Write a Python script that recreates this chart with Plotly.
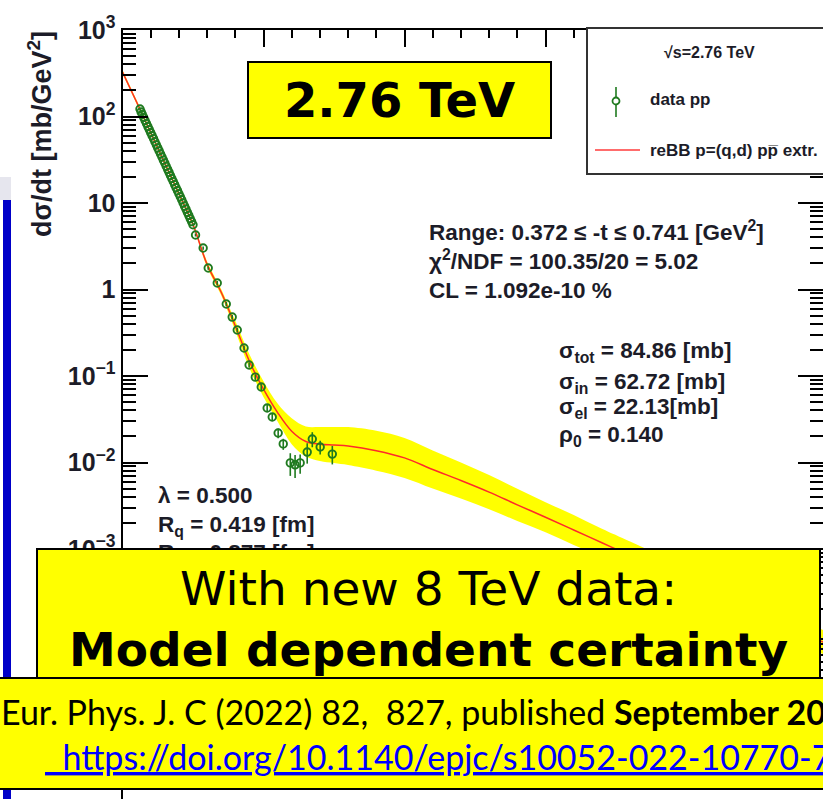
import plotly.graph_objects as go

W, H = 823, 799

# TOTEM pp data at sqrt(s) = 2.76 TeV
t_data = [0.062, 0.066, 0.070, 0.075, 0.080, 0.085, 0.090, 0.095, 0.100, 0.105,
          0.110, 0.115, 0.120, 0.125, 0.130, 0.135, 0.140, 0.145, 0.150, 0.155,
          0.160, 0.165, 0.170, 0.175, 0.180, 0.185, 0.190, 0.195, 0.200, 0.205,
          0.210, 0.215, 0.220, 0.225, 0.230, 0.235, 0.240, 0.245, 0.250,
          0.259, 0.286, 0.304, 0.336, 0.368, 0.389, 0.407, 0.431, 0.449, 0.471,
          0.492, 0.513, 0.531, 0.552, 0.570, 0.595, 0.612, 0.630, 0.655, 0.673,
          0.701, 0.744]
dsdt_data = [122, 113, 106, 97.8, 90, 83.0, 76.5, 70.6, 65, 60.0,
             55.5, 51.0, 47, 43.3, 40, 36.8, 34, 31.3, 29, 26.6,
             24.5, 22.6, 20.8, 19.2, 17.7, 16.3, 15.0, 13.9, 12.8, 11.8,
             10.9, 10.0, 9.2, 8.5, 7.8, 7.2, 6.6, 6.1, 5.6,
             4.27, 3.02, 1.77, 1.19, 0.68, 0.48, 0.34, 0.211, 0.134, 0.097,
             0.0746, 0.0427, 0.0336, 0.0219, 0.0164, 0.0099, 0.0094, 0.0099, 0.0132, 0.0187,
             0.0151, 0.0125]
dsdt_err = [3.5, 3.2, 3, 2.8, 2.7, 2.5, 2.3, 2.1, 2, 1.8,
            1.7, 1.5, 1.4, 1.3, 1.2, 1.1, 1.0, 0.95, 0.9, 0.8,
            0.75, 0.7, 0.65, 0.6, 0.55, 0.52, 0.5, 0.46, 0.42, 0.4,
            0.37, 0.34, 0.32, 0.3, 0.28, 0.26, 0.25, 0.23, 0.22,
            0.17, 0.13, 0.08, 0.06, 0.035, 0.026, 0.019, 0.013, 0.009, 0.007,
            0.006, 0.004, 0.0035, 0.0028, 0.0024, 0.0029, 0.0028, 0.0025, 0.0035, 0.0037,
            0.0027, 0.0030]

# reBB model extrapolation with its uncertainty band
t_model = [0.00, 0.05, 0.10, 0.15, 0.20, 0.25, 0.30, 0.35, 0.40, 0.45,
           0.50, 0.55, 0.60, 0.65, 0.70, 0.75, 0.80, 0.90, 1.00, 1.10,
           1.20, 1.30, 1.40, 1.50, 1.60, 1.70, 1.80, 2.00, 2.25, 2.50]
dsdt_model = [327, 147, 65.0, 28.8, 12.8, 5.65, 1.95, 0.93, 0.38, 0.148,
              0.0705, 0.0378, 0.0230, 0.0175, 0.0163, 0.0159, 0.0155, 0.0137, 0.0113, 0.0083,
              0.0062, 0.00455, 0.00324, 0.00233, 0.00166, 0.00118, 0.00084, 0.00043, 0.00018, 0.00008]
band_low = [310, 139.4, 61.6, 27.3, 12.1, 5.36, 1.80, 0.86, 0.333, 0.123,
            0.0570, 0.0297, 0.0163, 0.0117, 0.0104, 0.00985, 0.00935, 0.00805, 0.00664, 0.00501,
            0.00384, 0.00289, 0.00211, 0.00156, 0.00111, 0.00081, 0.00058, 0.000304, 0.000127, 0.0000581]
band_high = [345, 155, 68.6, 30.4, 13.5, 5.96, 2.11, 1.01, 0.434, 0.178,
             0.0872, 0.0480, 0.0325, 0.0261, 0.0257, 0.0257, 0.0257, 0.0233, 0.0192, 0.01375,
             0.0100, 0.00716, 0.00496, 0.00347, 0.00248, 0.00171, 0.00122, 0.000608, 0.000254, 0.00011]

y_tick_vals = [1e-3, 1e-2, 1e-1, 1, 10, 100, 1000]
y_tick_text = ["<b>10<sup>−3</sup></b>", "<b>10<sup>−2</sup></b>", "<b>10<sup>−1</sup></b>",
               "<b>1</b>", "<b>10</b>", "<b>10<sup>2</sup></b>", "<b>10<sup>3</sup></b>"]
y_minor_vals = [m * 10.0 ** e for e in range(-6, 3) for m in range(2, 10)]

INK = "#1c1c28"
GREEN = "#1f7a1f"
YELLOW = "#ffff00"


def px(x, y):
    return x / W, 1 - y / H


def note(text, x, y, size, xanchor="left", family="Liberation Sans", color=INK, **kw):
    xp, yp = px(x, y)
    return dict(text=text, x=xp, y=yp, xref="paper", yref="paper", xanchor=xanchor,
                yanchor="middle", showarrow=False,
                font=dict(family=family, size=size, color=color), **kw)


def box_note(text, x0, y0, x1, y1, size, bw=2, **kw):
    # yellow slide box with its text, drawn as one annotation
    xp, yp = px((x0 + x1) / 2, (y0 + y1) / 2)
    return dict(text=text, x=xp, y=yp, xref="paper", yref="paper", xanchor="center",
                yanchor="middle", showarrow=False, width=x1 - x0 - 2 * bw,
                height=y1 - y0 - 2 * bw, bgcolor=YELLOW, bordercolor="black",
                borderwidth=bw, borderpad=0,
                font=dict(family="DejaVu Sans", size=size, color="black"), **kw)


def rect(x0, y0, x1, y1, fill, line_color=None, lw=0):
    return dict(type="rect", xref="paper", yref="paper", x0=x0 / W, x1=x1 / W,
                y0=1 - y0 / H, y1=1 - y1 / H, fillcolor=fill, layer="above",
                line=dict(color=line_color or fill, width=lw))


fig = go.Figure()

fig.add_trace(go.Scatter(x=t_model, y=band_low, mode="lines",
                         line=dict(width=0, shape="spline"), hoverinfo="skip"))
fig.add_trace(go.Scatter(x=t_model, y=band_high, mode="lines",
                         line=dict(width=0, shape="spline"), fill="tonexty",
                         fillcolor=YELLOW, hoverinfo="skip"))
fig.add_trace(go.Scatter(x=t_model, y=dsdt_model, mode="lines",
                         line=dict(color="#ff2a2a", width=1.5, shape="spline")))
fig.add_trace(go.Scatter(
    x=t_data, y=dsdt_data, mode="markers",
    error_y=dict(type="data", array=dsdt_err, color=GREEN, thickness=1.6, width=0),
    marker=dict(symbol="circle-open", size=7.5, color=GREEN, line=dict(width=1.9))))

annotations = [
    # axis title
    note("<b>dσ/dt [mb/GeV<sup>2</sup>]</b>", 40, 134, 27, xanchor="center", textangle=-90),
    # fit information
    note("<b>Range: 0.372 ≤ -t ≤ 0.741 [GeV<sup>2</sup>]</b>", 427, 231, 22.5),
    note("<b>χ<sup>2</sup>/NDF = 100.35/20 = 5.02</b>", 427, 260, 22.5),
    note("<b>CL = 1.092e-10 %</b>", 427, 290, 22.5),
    note("<b>σ<sub>tot</sub> = 84.86 [mb]</b>", 557, 352, 22.5),
    note("<b>σ<sub>in</sub> = 62.72 [mb]</b>", 557, 383, 22.5),
    note("<b>σ<sub>el</sub> = 22.13[mb]</b>", 557, 408, 22.5),
    note("<b>ρ<sub>0</sub> = 0.140</b>", 557, 436, 22.5),
    note("<b>λ = 0.500</b>", 156, 495, 22.5),
    note("<b>R<sub>q</sub> = 0.419 [fm]</b>", 156, 526, 22.5),
    note("<b>R<sub>d</sub> = 0.877 [fm]</b>", 156, 554, 22.5),
    # legend text
    note("<b>√s=2.76 TeV</b>", 709, 53, 16, xanchor="center"),
    note("<b>data pp</b>", 648, 100, 17),
    note("<b>reBB p=(q,d) pp̅ extr.</b>", 648, 150, 17),
    # slide overlays
    box_note("<b>2.76 TeV</b>", 247, 61, 552, 139, 48),
    box_note("With new 8 TeV data:<br><b>Model dependent certainty</b>", 36, 548, 821, 679, 47,
             valign="bottom"),
    note("Eur. Phys. J. C (2022) 82,\u00a0 827, published <b>September 2022</b>", -1, 711, 34,
         family="Lato", color="black"),
    note("<u>\u00a0\u00a0https://doi.org/10.1140/epjc/s10052-022-10770-7</u>", 43, 756, 34,
         family="Lato", color="#0000ff"),
]

shapes = [
    # legend frame and keys
    rect(587, 28, 830, 174, "white", "#333333", 2),
    dict(type="line", xref="paper", yref="paper", x0=616 / W, x1=616 / W, y0=1 - 87 / H, y1=1 - 117 / H,
         line=dict(color=GREEN, width=1.6), layer="above"),
    dict(type="circle", xref="paper", yref="paper", x0=612.5 / W, x1=619.5 / W, y0=1 - 97.5 / H, y1=1 - 104.5 / H,
         line=dict(color=GREEN, width=1.8), fillcolor="white", layer="above"),
    dict(type="line", xref="paper", yref="paper", x0=595 / W, x1=640 / W, y0=1 - 150 / H, y1=1 - 150 / H,
         line=dict(color="#ff3b3b", width=1.5), layer="above"),
    # slide decorations on the left edge
    rect(0, 177, 11, 200, "#e6e6ee"),
    rect(3, 200, 11, 800, "#0000c8"),
    # citation banner
    rect(-6, 678, 830, 789, YELLOW, "black", 2),
]

axis_common = dict(showline=True, linecolor="black", linewidth=2,
                   ticks="inside", tickcolor="black", tickwidth=1.5, automargin=False,
                   showgrid=False, zeroline=False)

fig.update_layout(
    width=W, height=H, margin=dict(l=0, r=0, t=0, b=0, autoexpand=False),
    paper_bgcolor="white", plot_bgcolor="white", showlegend=False,
    xaxis=dict(side="top", mirror=False, domain=[122.5 / W, 1], range=[0, (W - 122.5) / 282],
               tick0=0, dtick=0.5, ticklen=17, showticklabels=False,
               minor=dict(ticks="inside", dtick=0.1, ticklen=8, tickwidth=1.5, tickcolor="black"),
               **axis_common),
    yaxis=dict(type="log", mirror="allticks", domain=[0, 1 - 30 / H], range=[3 - (H - 30) / 86.5, 3],
               tickmode="array", tickvals=y_tick_vals, ticktext=y_tick_text, ticklen=25,
               tickfont=dict(family="Liberation Sans", size=25, color=INK),
               minor=dict(ticks="inside", tickmode="array", tickvals=y_minor_vals, ticklen=13,
                          tickwidth=1.5, tickcolor="black"),
               **axis_common),
    annotations=annotations,
    shapes=shapes,
)

fig.write_html("out.html", config={"displayModeBar": False},
               post_script="document.body.style.margin = '0px';")
